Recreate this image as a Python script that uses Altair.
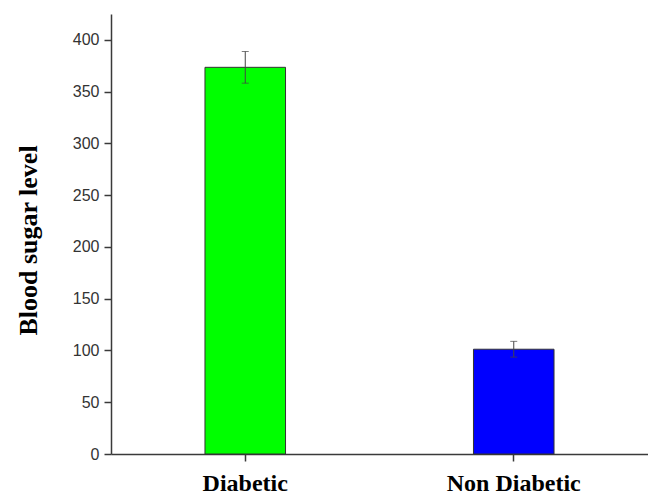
import altair as alt
import pandas as pd

categories = ["Diabetic", "Non Diabetic"]
values = [373.5, 101.2]
errors = [15.3, 7.6]
colors = ["#00ff00", "#0000ff"]

df = pd.DataFrame({"group": categories, "value": values, "err": errors, "color": colors})
df["lo"] = df["value"] - df["err"]
df["hi"] = df["value"] + df["err"]

tick_vals = list(range(0, 426, 25))

x_enc = alt.X(
    "group:N",
    sort=categories,
    scale=alt.Scale(paddingInner=0, paddingOuter=0),
    axis=alt.Axis(
        title=None,
        labelAngle=0,
        labelFont="Liberation Serif",
        labelFontWeight="bold",
        labelFontSize=24,
        labelColor="#000000",
        labelPadding=10,
        tickSize=7,
        tickWidth=1.5,
        tickColor="#3a3a3a",
        domainColor="#3a3a3a",
        domainWidth=1.5,
    ),
)

y_scale = alt.Scale(domain=[0, 425], nice=False)

bars = alt.Chart(df).mark_bar(width={"band": 0.3}, stroke="#333333", strokeWidth=1).encode(
    x=x_enc,
    y=alt.Y(
        "value:Q",
        scale=y_scale,
        axis=alt.Axis(
            title="Blood sugar level",
            titleFont="Liberation Serif",
            titleFontWeight="bold",
            titleFontSize=26,
            titleColor="#000000",
            titleAngle=-90,
            titleAlign="center",
            titleBaseline="alphabetic",
            titleX=-75,
            titleY=226,
            values=tick_vals,
            labelExpr="datum.value % 50 === 0 ? datum.label : ''",
            labelFont="Liberation Sans",
            labelFontSize=16,
            labelColor="#333333",
            labelPadding=5,
            tickSize={"condition": {"test": "datum.value % 50 === 0", "value": 7}, "value": 4},
            tickWidth=1.5,
            tickColor="#3a3a3a",
            domainColor="#3a3a3a",
            domainWidth=1.5,
            grid=False,
        ),
    ),
    color=alt.Color("color:N", scale=None),
)

rules = alt.Chart(df).mark_rule(color="#444444", strokeWidth=1).encode(
    x=alt.X("group:N", sort=categories),
    y=alt.Y("lo:Q", scale=y_scale),
    y2="hi:Q",
)

caps_hi = alt.Chart(df).mark_tick(color="#444444", thickness=1, size=7).encode(
    x=alt.X("group:N", sort=categories),
    y=alt.Y("hi:Q", scale=y_scale),
)
caps_lo = alt.Chart(df).mark_tick(color="#444444", thickness=1, size=7).encode(
    x=alt.X("group:N", sort=categories),
    y=alt.Y("lo:Q", scale=y_scale),
)

chart = alt.layer(bars, rules, caps_hi, caps_lo).properties(
    width=537,
    height=440,
    autosize=alt.AutoSizeParams(type="none"),
    padding={"left": 103, "top": 6, "right": 0, "bottom": 38},
    background="#ffffff",
).configure_view(stroke=None)

chart.save("out.html", embed_options={"renderer": "svg", "actions": False})
